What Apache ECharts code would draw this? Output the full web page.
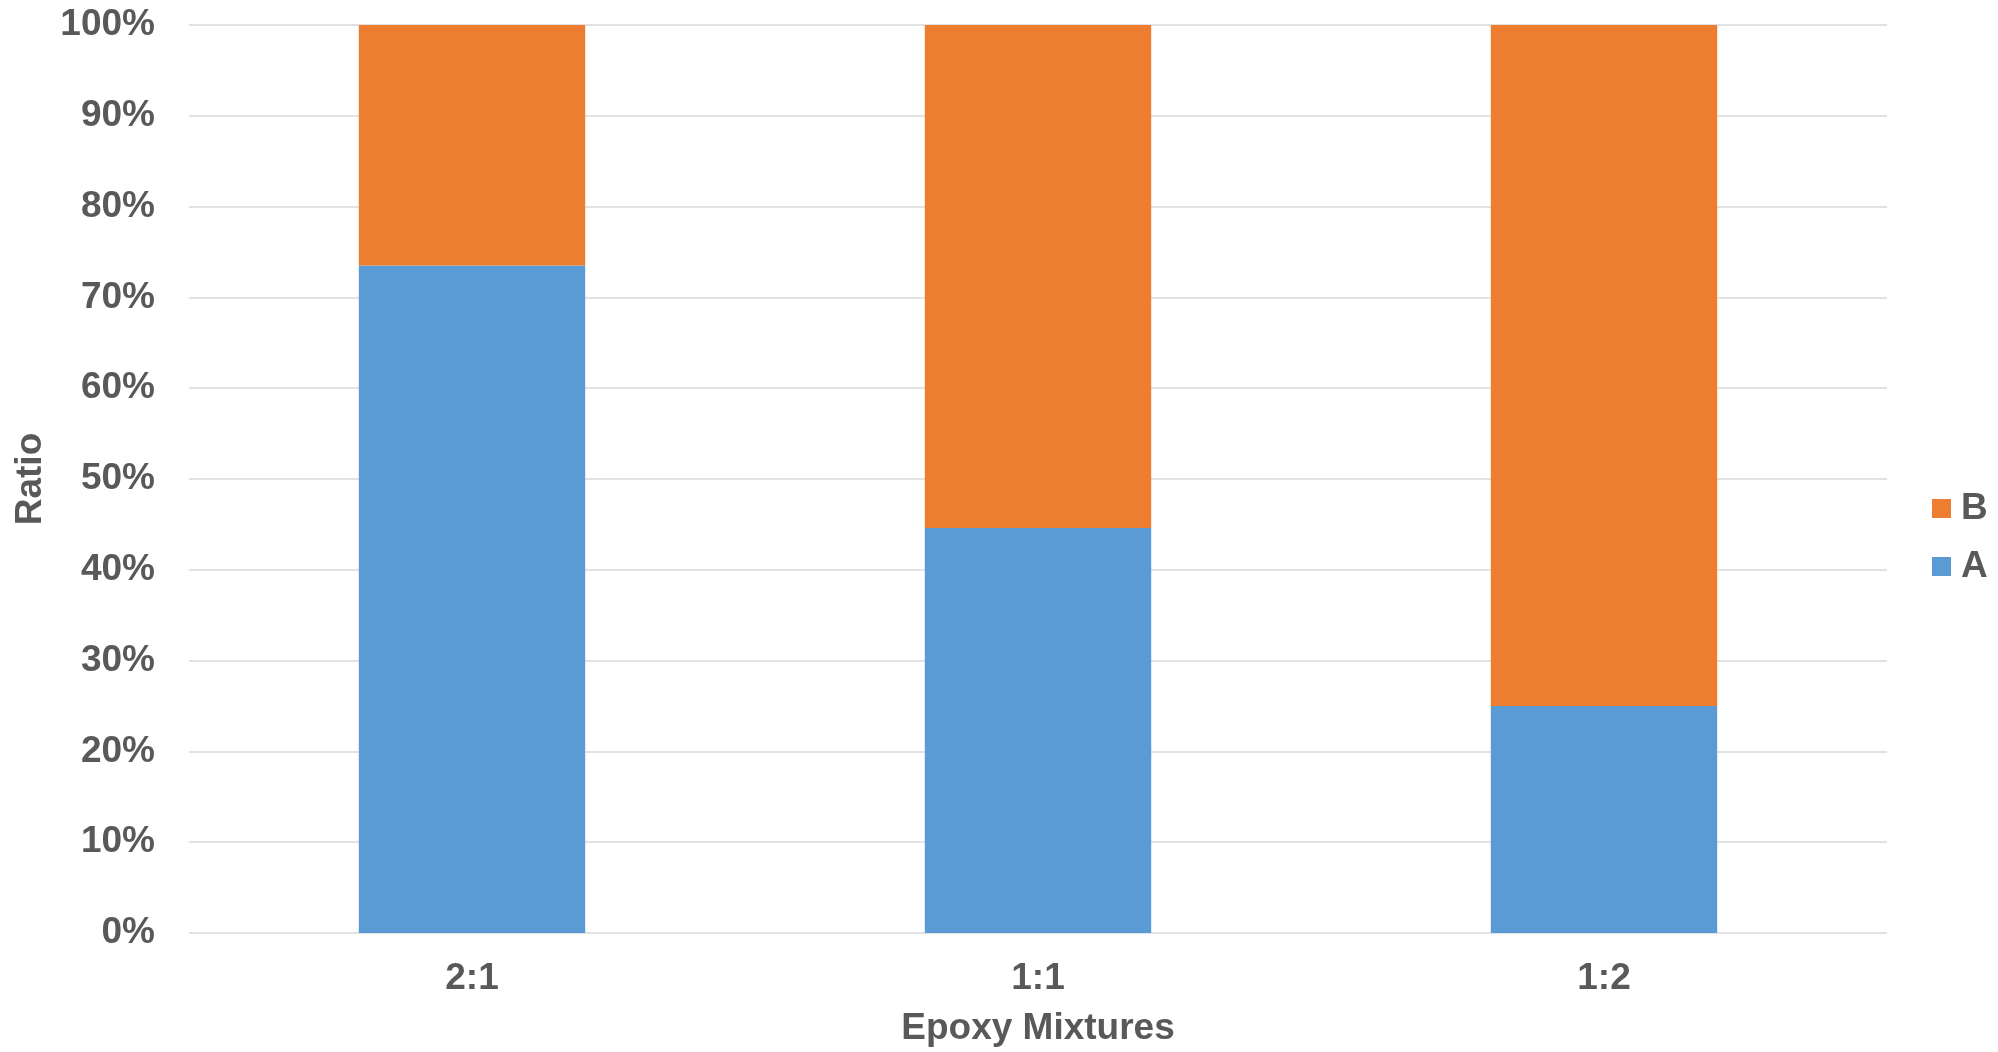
<!DOCTYPE html>
<html>
<head>
<meta charset="utf-8">
<script src="https://cdn.jsdelivr.net/npm/echarts@6/dist/echarts.min.js"></script>
<style>html,body{margin:0;padding:0;background:#fff;}#chart{width:1998px;height:1052px;}</style>
</head>
<body>
<div id="chart"></div>
<script>
const categories = ['2:1', '1:1', '1:2'];
const seriesA = [73.5, 44.6, 25.0];
const seriesB = [26.5, 55.4, 75.0];
const yTicks = [0, 10, 20, 30, 40, 50, 60, 70, 80, 90, 100];

const FONT = '"Liberation Sans", Arial, sans-serif';
const TXT = '#595959';
const chart = echarts.init(document.getElementById('chart'));
chart.setOption({
  animation: false,
  grid: { left: 189, right: 111, top: 25, bottom: 118 },
  legend: {
    orient: 'vertical',
    left: 1927,
    top: 485,
    itemWidth: 19,
    itemHeight: 19,
    itemGap: 21,
    icon: 'rect',
    data: ['B', 'A'],
    textStyle: { fontFamily: FONT, fontWeight: 'bold', fontSize: 37, color: TXT, padding: [0, 0, 0, 5] }
  },
  xAxis: {
    type: 'category',
    data: categories,
    name: 'Epoxy Mixtures',
    nameLocation: 'middle',
    nameGap: 77,
    nameTextStyle: { fontFamily: FONT, fontWeight: 'bold', fontSize: 37, color: TXT },
    axisLine: { show: false },
    axisTick: { show: false },
    axisLabel: { fontFamily: FONT, fontWeight: 'bold', fontSize: 37, color: TXT, margin: 27 }
  },
  yAxis: {
    type: 'value',
    min: yTicks[0],
    max: yTicks[yTicks.length - 1],
    interval: 10,
    name: 'Ratio',
    nameLocation: 'middle',
    nameGap: 138,
    nameTextStyle: { fontFamily: FONT, fontWeight: 'bold', fontSize: 37, color: TXT },
    axisLine: { show: false },
    axisTick: { show: false },
    splitLine: { lineStyle: { color: '#d9d9d9', width: 1.5 } },
    axisLabel: { fontFamily: FONT, fontWeight: 'bold', fontSize: 37, color: TXT, margin: 34, formatter: '{value}%' }
  },
  series: [
    { name: 'A', type: 'bar', stack: 'total', barWidth: '40%', data: seriesA, itemStyle: { color: '#5B9BD5' } },
    { name: 'B', type: 'bar', stack: 'total', barWidth: '40%', data: seriesB, itemStyle: { color: '#ED7D31' } }
  ]
});
</script>
</body>
</html>
